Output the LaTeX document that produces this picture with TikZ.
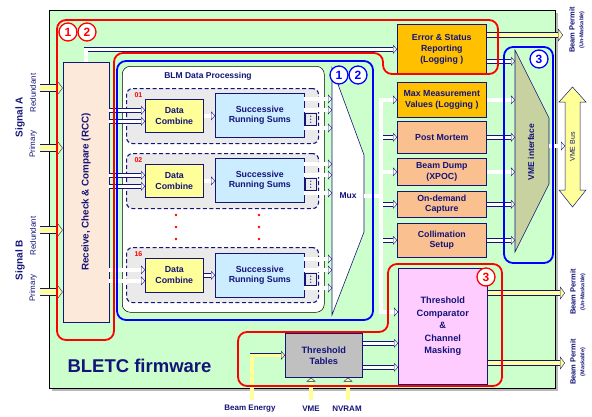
\documentclass[tikz,border=0pt]{standalone}
\usepackage{fontspec}
\setmainfont{Liberation Sans}
\usetikzlibrary{arrows.meta,calc}
\definecolor{navy}{RGB}{20,20,120}
\definecolor{bgc}{RGB}{204,255,204}
\definecolor{rccc}{RGB}{253,233,217}
\definecolor{dcy}{RGB}{255,255,153}
\definecolor{srsc}{RGB}{204,236,255}
\definecolor{grpc}{RGB}{234,234,234}
\definecolor{orng}{RGB}{255,192,0}
\definecolor{pch}{RGB}{250,192,144}
\definecolor{pnk}{RGB}{255,204,255}
\definecolor{tblc}{RGB}{192,192,192}
\definecolor{vmec}{RGB}{200,210,160}
\definecolor{ayel}{RGB}{255,255,153}
\definecolor{redc}{RGB}{255,0,0}
\definecolor{bluec}{RGB}{0,0,255}
\begin{document}
\begin{tikzpicture}[x=1pt,y=-1pt,
  box/.style={draw=navy, line width=0.6pt, text=navy, align=center, inner sep=1pt, anchor=north west, font=\fontsize{8.8}{10.6}\selectfont\bfseries},
  harr/.style={draw=navy, line width=0.4pt, double=white, double distance=3.6pt, -{Triangle[length=4pt,width=9pt,fill=white,line width=0.4pt]}},
  yarr/.style={draw=navy, line width=0.4pt, double=ayel, double distance=4.6pt, -{Triangle[length=5pt,width=13pt,fill=ayel,line width=0.4pt]}},
  yarrb/.style={draw=navy, line width=0.4pt, double=ayel, double distance=6.6pt, -{Triangle[length=6pt,width=16pt,fill=ayel,line width=0.4pt]}},
  yarrs/.style={draw=navy, line width=0.4pt, double=ayel, double distance=3.2pt, -{Triangle[length=4pt,width=9pt,fill=ayel,line width=0.4pt]}},
  grp/.style={draw=navy, line width=1.1pt, dash pattern=on 4pt off 2.5pt, rounded corners=6pt, fill=grpc, anchor=north west, minimum width=192pt, minimum height=55pt},
  rcirc/.style={circle, draw=redc, fill=white, line width=1.3pt, inner sep=0pt, minimum size=18pt, text=redc, font=\fontsize{12}{12}\selectfont\bfseries},
  bcirc/.style={rcirc, draw=bluec, text=bluec},
  lbl/.style={text=navy, font=\fontsize{8.5}{9}\selectfont\bfseries},
  reg/.style={line width=1.8pt, rounded corners=9pt}
]
\useasboundingbox (0,0) rectangle (592,416);
% frame
\fill[gray!55] (52,13) rectangle (558,391);
\node[draw=black, fill=bgc, line width=0.6pt, minimum width=506pt, minimum height=378pt, anchor=north west, inner sep=0pt] (fw) at (49,10) {};
\node[anchor=west, text=navy, font=\fontsize{18.5}{20}\selectfont\bfseries] (ttl) at (64,366) {BLETC firmware};

% RCC
\node[box, anchor=center, fill=rccc, minimum width=46pt, minimum height=260pt, font=\fontsize{9.8}{11}\selectfont\bfseries] (rcc) at (86,192) {\rotatebox{90}{Receive, Check \& Compare (RCC)}};
\foreach \n/\y in {sa1/88, sa2/148, sb1/230, sb2/292} {
  \coordinate (\n) at (40,\y);
  \draw[yarrb] (\n) -- (\n -| rcc.west);
}
\node[rotate=90, text=navy, font=\fontsize{10}{10}\selectfont\bfseries] (sigA) at (20,117) {Signal A};
\node[rotate=90, text=navy, font=\fontsize{8}{8}\selectfont] (redA) at (33,93) {Redundant};
\node[rotate=90, text=navy, font=\fontsize{8}{8}\selectfont] (priA) at (33,144) {Primary};
\node[rotate=90, text=navy, font=\fontsize{10}{10}\selectfont\bfseries] (sigB) at (20,260) {Signal B};
\node[rotate=90, text=navy, font=\fontsize{8}{8}\selectfont] (redB) at (33,236) {Redundant};
\node[rotate=90, text=navy, font=\fontsize{8}{8}\selectfont] (priB) at (33,288) {Primary};

% processing block
\node[draw=black, line width=0.5pt, fill=white, rounded corners=8pt, minimum width=202pt, minimum height=246pt, anchor=north west, inner sep=0pt] (proc) at (122,66) {};
\node[lbl] (proct) at (208,76) {BLM Data Processing};
\coordinate (m1) at (332,68);
\coordinate (m2) at (364,155);
\coordinate (m3) at (364,232);
\coordinate (m4) at (332,315);
\coordinate (mr) at (364,196);

\foreach \c/\gy/\dy/\dh/\sy in {1/88/99/33/93, 2/153/164/33/158, 16/247/258/34/253} {
  \node[grp] (g\c) at (126,\gy) {};
  \node[anchor=west, text=redc, font=\fontsize{7}{7}\selectfont\bfseries] (n\c) at (131,\gy+7) {\ifnum\c<10 0\fi\c};
  \node[box, fill=dcy, minimum width=58pt, minimum height=\dh pt] (dc\c) at (145,\dy) {Data\\Combine};
  \node[box, fill=srsc, minimum width=89pt, minimum height=44pt] (srs\c) at (215,\sy) {Successive\\Running Sums};
  \node[draw=navy, line width=0.4pt, fill=grpc, anchor=north west, minimum width=11pt, minimum height=12pt, inner sep=0pt] (dt\c) at (305,\sy+20) {};
  \foreach \k in {-3,0,3} { \fill[navy] ($(dt\c.center)+(0,\k)$) circle (0.7pt); }
  \coordinate (ia\c) at ($(dc\c.west)+(0,-5.5)$);
  \coordinate (ib\c) at ($(dc\c.west)+(0,5.5)$);
  \draw[harr] (ia\c -| rcc.east) -- (ia\c);
  \draw[harr] (ib\c -| rcc.east) -- (ib\c);
  \draw[harr] (dc\c.east) -- (dc\c.east -| srs\c.west);
  \coordinate (oa\c) at ($(srs\c.north east)+(-1,6)$);
  \coordinate (ob\c) at ($(srs\c.north east)+(-1,17)$);
  \coordinate (oc\c) at ($(srs\c.north east)+(-1,35)$);
  \draw[harr] (oa\c) -- (oa\c -| m1);
  \draw[harr] (ob\c) -- (ob\c -| m1);
  \draw[harr] (oc\c) -- (oc\c -| m1);
}
\foreach \yy in {215,227,239} {
  \fill[redc] (176,\yy) circle (1.3pt);
  \fill[redc] (259,\yy) circle (1.3pt);
}
% mux
\draw[navy, fill=white, line width=0.6pt] (m1) -- (m2) -- (m3) -- (m4) -- cycle;
\node[lbl] (mux) at (348,196) {Mux};

% right boxes
\node[box, fill=orng, minimum width=89pt, minimum height=50pt] (err) at (397,24) {Error \& Status\\Reporting\\(Logging )};
\node[box, fill=orng, minimum width=89pt, minimum height=35pt] (max) at (397,82) {Max Measurement\\Values (Logging )};
\node[box, fill=pch, minimum width=89pt, minimum height=32pt] (pm) at (397,121) {Post Mortem};
\node[box, fill=pch, minimum width=89pt, minimum height=27pt] (bd) at (397,158) {Beam Dump\\(XPOC)};
\node[box, fill=pch, minimum width=89pt, minimum height=26pt] (od) at (397,191) {On-demand\\Capture};
\node[box, fill=pch, minimum width=89pt, minimum height=34pt] (col) at (397,223) {Collimation\\Setup};
\node[box, fill=pnk, minimum width=89pt, minimum height=116pt, font=\fontsize{9.2}{12.5}\selectfont\bfseries] (cmp) at (398,268) {Threshold\\Comparator\\\&\\Channel\\Masking};
\node[box, fill=tblc, minimum width=77pt, minimum height=44pt, font=\fontsize{9.2}{11}\selectfont\bfseries] (tbl) at (285,333) {Threshold\\Tables};

% RCC to error reporting
\draw[harr] (rcc.north) |- (err.west);

% bus
\coordinate (busT) at (381,0);
\coordinate (busB) at (381,312);
\draw[harr, {Triangle[length=4pt,width=9pt,fill=white,line width=0.4pt]}-{Triangle[length=4pt,width=9pt,fill=white,line width=0.4pt]}] (max.west) -- (busT |- max.west) -- (busB) -- (busB -| cmp.west);
\draw[harr, -] (mr) -- (busT |- mr);
\foreach \b in {pm,bd,od,col} { \draw[harr] (busT |- \b.west) -- (\b.west); }
\draw[white, line width=3.6pt] (busT |- max.west) -- (busB);

% VME interface
\coordinate (v1) at (515,50);
\coordinate (v2) at (549,118);
\coordinate (v3) at (549,184);
\coordinate (v4) at (515,252);
\draw[navy, fill=vmec, line width=0.6pt] (v1) -- (v2) -- (v3) -- (v4) -- cycle;
\node[rotate=90, lbl] (vmei) at (531,152) {VME interface};
\coordinate (ea) at ($(err.east)+(0,12)$);
\draw[harr] (ea) -- (ea -| v1);
\foreach \b in {max,pm,bd,od,col} { \draw[harr] (\b.east) -- (\b.east -| v1); }
\coordinate (vb) at (565,146);
\draw[harr] (vb -| v2) -- (vb);
\draw[navy, fill=ayel, line width=0.5pt] (572.5,87) -- (586,102) -- (580,102) -- (580,190) -- (586,190) -- (572.5,207) -- (559,190) -- (565,190) -- (565,102) -- (559,102) -- cycle;
\node[rotate=90, text=navy, font=\fontsize{7}{7}\selectfont] (vbus) at (572.5,147) {VME Bus};

% beam permits
\coordinate (bp1) at (563,35);
\draw[yarr] (bp1 -| err.east) -- (bp1);
\coordinate (bp2) at (565,293);
\draw[yarr] (bp2 -| cmp.east) -- (bp2);
\coordinate (bp3) at (565,363);
\draw[yarr] (bp3 -| cmp.east) -- (bp3);
\node[rotate=90, text=navy, font=\fontsize{7.5}{7.5}\selectfont\bfseries] (bpt1) at (572,30) {Beam Permit};
\node[rotate=90, text=navy, font=\fontsize{5.5}{5.5}\selectfont\bfseries] (bps1) at (582,30) {(Un-Maskable)};
\node[rotate=90, text=navy, font=\fontsize{7.5}{7.5}\selectfont\bfseries] (bpt2) at (573,292) {Beam Permit};
\node[rotate=90, text=navy, font=\fontsize{5.5}{5.5}\selectfont\bfseries] (bps2) at (583,292) {(Un-Maskable)};
\node[rotate=90, text=navy, font=\fontsize{7.5}{7.5}\selectfont\bfseries] (bpt3) at (573,362) {Beam Permit};
\node[rotate=90, text=navy, font=\fontsize{5.5}{5.5}\selectfont\bfseries] (bps3) at (583,362) {(Maskable)};

% tables
\coordinate (t1) at ($(tbl.east)+(0,-12)$);
\coordinate (t2) at ($(tbl.east)+(0,12)$);
\draw[harr] (t1) -- (t1 -| cmp.west);
\draw[harr] (t2) -- (t2 -| cmp.west);
\coordinate (be) at (252,400);
\coordinate (vm) at (311,400);
\coordinate (nv) at (348,400);
\draw[yarrs] (be) |- (tbl.west);
\draw[yarrs] (vm) -- (vm |- tbl.south);
\draw[yarrs] (nv) -- (nv |- tbl.south);
\node[lbl, font=\fontsize{8}{8}\selectfont\bfseries] (bet) at (250,409) {Beam Energy};
\node[lbl, font=\fontsize{8}{8}\selectfont\bfseries] (vmt) at (311,409) {VME};
\node[lbl, font=\fontsize{8}{8}\selectfont\bfseries] (nvt) at (347,409) {NVRAM};

% regions
\draw[redc, reg] (57,20) -- (498,20) -- (498,74) -- (383,74) -- (383,53) -- (114,53) -- (114,340) -- (57,340) -- cycle;
\draw[bluec, reg] (117,61) rectangle (373,320);
\draw[bluec, reg] (504,47) rectangle (553,263);
\draw[redc, reg] (388,264) -- (502,264) -- (502,386) -- (238,386) -- (238,332) -- (388,332) -- cycle;
\node[rcirc] (r1) at (68,32) {1};
\node[rcirc] (r2) at (87,32) {2};
\node[bcirc] (b1) at (339,75) {1};
\node[bcirc] (b2) at (358,75) {2};
\node[bcirc] (b3) at (539,59) {3};
\node[rcirc] (r3) at (486,277) {3};
\end{tikzpicture}
\end{document}
